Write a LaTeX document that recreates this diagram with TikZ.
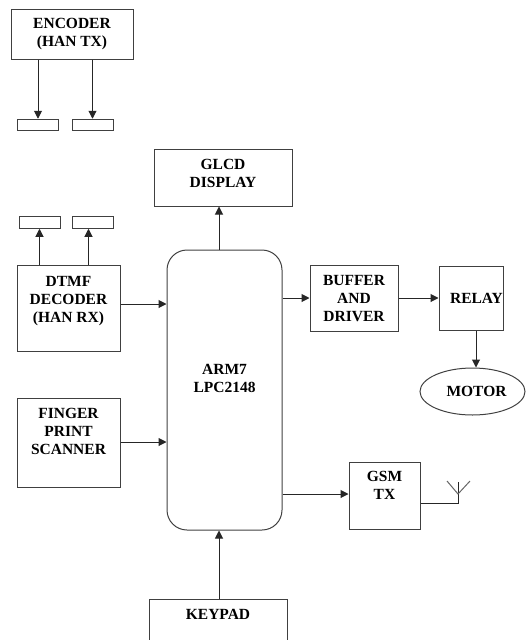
\documentclass[tikz,border=0pt]{standalone}
\usepackage{fontspec}
\setmainfont{Liberation Serif}
\usetikzlibrary{arrows.meta,shapes.geometric}
\begin{document}
\begin{tikzpicture}[x=1pt, y=-1pt, >={Stealth[length=8pt,width=8pt,inset=0pt]},
  blk/.style={draw=black!75, line width=1pt, inner sep=0pt, align=center,
    font=\fontsize{15.5}{18}\selectfont\bfseries},
  pin/.style={draw=black!75, line width=1pt, inner sep=0pt, minimum width=41pt, minimum height=11.5pt},
  wire/.style={->, black!85, line width=1pt},
  aer/.style={black!60, line width=1pt}]
\clip (0,0) rectangle (526,640);
\node[blk, minimum width=122pt, minimum height=50pt, text depth=4pt] (enc) at (72,34) {ENCODER\\(HAN TX)};
\node[pin] (txa) at (38,125) {};
\node[pin] (txb) at (92.5,125) {};
\node[blk, minimum width=138pt, minimum height=57pt, text depth=8pt] (glcd) at (223,177.5) {GLCD\\DISPLAY};
\node[pin] (rxa) at (39.5,222.5) {};
\node[pin] (rxb) at (92.5,222.5) {};
\node[blk, minimum width=103pt, minimum height=86pt, text depth=18pt] (dtmf) at (68.5,308) {DTMF\\DECODER\\(HAN RX)};
\node[blk, minimum width=103pt, minimum height=89pt, text depth=22pt] (scan) at (68.5,442.5) {FINGER\\PRINT\\SCANNER};
\node[blk, rounded corners=20pt, minimum width=115pt, minimum height=280pt, text depth=24pt] (arm) at (224.5,390) {ARM7\\LPC2148};
\node[blk, minimum width=88pt, minimum height=66pt, text depth=0pt] (buf) at (354,298) {BUFFER\\AND\\DRIVER};
\node[blk, minimum width=64pt, minimum height=64pt] (rel) at (471,298) {\hspace*{11pt}RELAY};
\node[blk, ellipse, minimum width=105pt, minimum height=47pt] (mot) at (472.5,391.5) {\hspace*{8pt}MOTOR};
\node[blk, minimum width=71pt, minimum height=67pt, text depth=20pt] (gsm) at (384.5,495.5) {GSM\\TX};
\node[blk, minimum width=138pt, minimum height=52pt, text depth=22pt] (key) at (218,625) {KEYPAD};
\coordinate (stem) at (458,503);
\coordinate (top) at (458,482);
\coordinate (fork) at (458,494);
\coordinate (tipa) at (447,481);
\coordinate (tipb) at (470,481);
\draw[wire] (txa.north |- enc.south) -- (txa);
\draw[wire] (txb.north |- enc.south) -- (txb);
\draw[wire] (rxa.south |- dtmf.north) -- (rxa);
\draw[wire] ([xshift=-4pt]rxb.south |- dtmf.north) -- ([xshift=-4pt]rxb.south);
\draw[wire] (dtmf.east |- 0,304) -- (arm.west |- 0,304);
\draw[wire] (scan.east |- 0,442) -- (arm.west |- 0,442);
\draw[wire] (arm.north -| 219,0) -- (glcd.south -| 219,0);
\draw[wire] (key.north -| 219,0) -- (arm.south -| 219,0);
\draw[wire] (arm.east |- buf) -- (buf);
\draw[wire] (buf) -- (rel);
\draw[wire] (rel.south -| 476,0) -- (mot.north -| 476,0);
\draw[wire] (arm.east |- 0,494) -- (gsm.west |- 0,494);
\draw[black!85, line width=1pt] (gsm.east |- stem) -- (stem) -- (top);
\draw[aer] (tipa) -- (fork) -- (tipb);
\end{tikzpicture}
\end{document}
